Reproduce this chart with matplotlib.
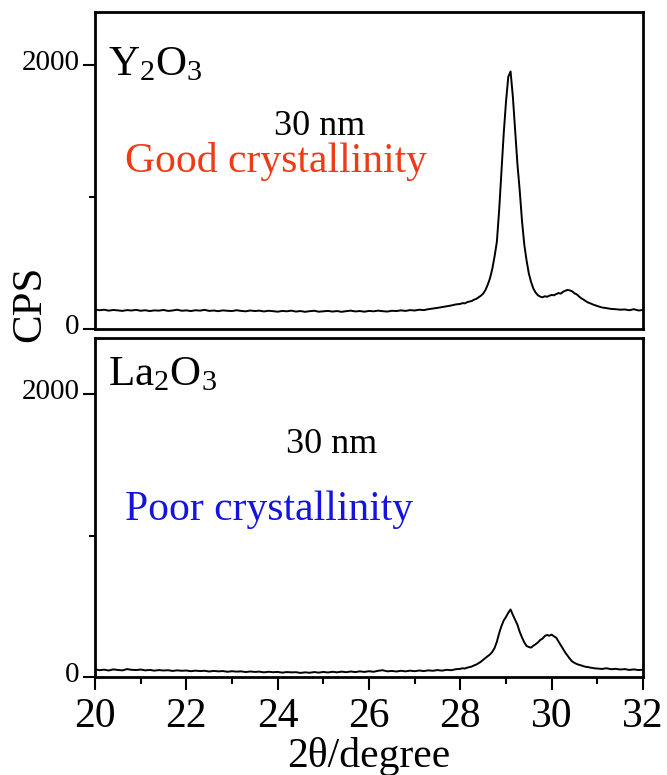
import numpy as np
import matplotlib
matplotlib.use("Agg")
import matplotlib.pyplot as plt
import matplotlib.transforms as mtransforms
from matplotlib.ticker import MultipleLocator

plt.rcParams['font.family'] = ['Liberation Serif', 'DejaVu Serif']
plt.rcParams['mathtext.fontset'] = 'custom'
plt.rcParams['mathtext.rm'] = 'Liberation Serif'
plt.rcParams['mathtext.it'] = 'Liberation Serif:italic'

# 2theta grid: 0.1 deg steps, 0.05 deg around the peaks
two_theta = np.round(np.concatenate([np.arange(20.0, 27.95, 0.1),
                                     np.arange(28.0, 30.975, 0.05),
                                     np.arange(31.0, 32.05, 0.1)]), 2)

# Y2O3 pattern (CPS)
y2o3_cps = [
    148, 142, 146, 139, 144, 141, 137, 143, 140, 145,
    138, 142, 136, 141, 139, 144, 137, 140, 146, 138,
    141, 136, 142, 139, 145, 137, 140, 135, 141, 138,
    136, 142, 137, 134, 140, 136, 139, 133, 138, 135,
    131, 137, 134, 139, 132, 136, 130, 135, 138, 131,
    134, 137, 132, 136, 130, 135, 139, 133, 136, 131,
    137, 134, 139, 135, 132, 138, 136, 141, 137, 143,
    140, 146, 143, 150, 155, 160, 166, 172, 178, 186,
    # 28.00 - 30.95
    190, 196, 194, 203, 208, 212, 222, 228, 240, 252,
    268, 295, 335, 385, 455, 550, 660, 900, 1190, 1480,
    1720, 1910, 1950, 1760, 1500, 1250, 1050, 820, 640, 520,
    420, 355, 305, 275, 255, 245, 240, 248, 244, 252,
    258, 255, 265, 272, 268, 282, 290, 296, 292, 285,
    270, 262, 246, 232, 222, 210, 200, 194, 186, 180,
    # 31.0 - 32.0
    174, 163, 158, 152, 150, 146, 148, 142, 150, 140, 144,
]

# La2O3 pattern (CPS)
la2o3_cps = [
    55, 48, 52, 46, 54, 50, 47, 56, 51, 49,
    53, 47, 50, 45, 49, 46, 48, 43, 47, 44,
    46, 41, 45, 42, 44, 39, 43, 40, 42, 37,
    41, 38, 40, 35, 39, 36, 38, 33, 37, 34,
    36, 31, 35, 33, 34, 29, 33, 30, 35, 31,
    36, 32, 37, 33, 38, 34, 39, 35, 40, 36,
    41, 37, 44, 48, 40, 43, 39, 44, 40, 45,
    41, 46, 42, 47, 44, 49, 45, 51, 48, 55,
    # 28.00 - 30.95
    58, 62, 60, 66, 70, 74, 82, 88, 98, 108,
    122, 135, 148, 160, 178, 205, 250, 310, 360, 400,
    425, 455, 478, 440, 405, 370, 320, 280, 245, 220,
    212, 208, 222, 232, 245, 262, 272, 290, 298, 292,
    300, 288, 278, 252, 225, 198, 172, 150, 128, 110,
    100, 92, 86, 82, 76, 72, 70, 66, 64, 61,
    # 31.0 - 32.0
    60, 57, 62, 55, 58, 53, 56, 50, 54, 49, 52,
]

panels = [
    (r'Y$_2$O$_3$', 0.80, 'Good crystallinity', '#ee3a16', y2o3_cps, (0.409, 0.612), 0.495),
    (r'La$_2$O$_3$', 0.861, 'Poor crystallinity', '#1414dc', la2o3_cps, (0.431, 0.661), 0.463),
]

W, H = 667, 775
fig = plt.figure(figsize=(W / 100, H / 100), dpi=100)
ax_top = fig.add_axes([95 / W, (H - 329) / H, 548 / W, 317 / H])
ax_bot = fig.add_axes([95 / W, (H - 677) / H, 548 / W, 339 / H])

# y tick labels sit a bit above their ticks in the original
lift = mtransforms.ScaledTranslation(0, 5 / 100, fig.dpi_scale_trans)

for ax, (name, name_y, crys, col, cps, nm_pos, crys_y) in zip([ax_top, ax_bot], panels):
    ax.plot(two_theta, cps, color='black', lw=1.4)
    ax.set_xlim(20, 32)
    ax.set_ylim(0, 2400)
    for s in ax.spines.values():
        s.set_linewidth(2.0)
    ax.set_yticks([0, 2000])
    ax.set_yticklabels(['0', '2000'])
    ax.yaxis.set_minor_locator(MultipleLocator(1000))
    ax.tick_params(axis='y', which='major', direction='out', length=9, width=1.5,
                   labelsize=21, pad=2, right=False)
    ax.tick_params(axis='y', which='minor', direction='out', length=4, width=1.5, right=False)
    for lab in ax.get_yticklabels():
        lab.set_transform(lab.get_transform() + lift)
    ax.text(0.024, name_y, name, transform=ax.transAxes,
            fontsize=31, va='baseline', ha='left')
    ax.text(nm_pos[0], nm_pos[1], '30 nm', transform=ax.transAxes,
            fontsize=26, va='baseline', ha='center')
    ax.text(0.055, crys_y, crys, transform=ax.transAxes, color=col,
            fontsize=30, va='baseline', ha='left')

ax_top.tick_params(axis='x', which='both', bottom=False, top=False, labelbottom=False)

ax_bot.set_xticks(np.arange(20, 33, 2))
ax_bot.xaxis.set_minor_locator(MultipleLocator(1))
ax_bot.tick_params(axis='x', which='major', direction='out', length=9, width=1.5,
                   labelsize=30, pad=6, top=False)
ax_bot.tick_params(axis='x', which='minor', direction='out', length=5, width=1.5, top=False)

fig.text(30 / W, (H - 304) / H, 'CPS', rotation=90, fontsize=31, ha='center', va='center')
fig.text(369 / W, 8 / H, '2θ/degree', fontsize=30, ha='center', va='baseline')

fig.savefig('out.png', dpi=100)
